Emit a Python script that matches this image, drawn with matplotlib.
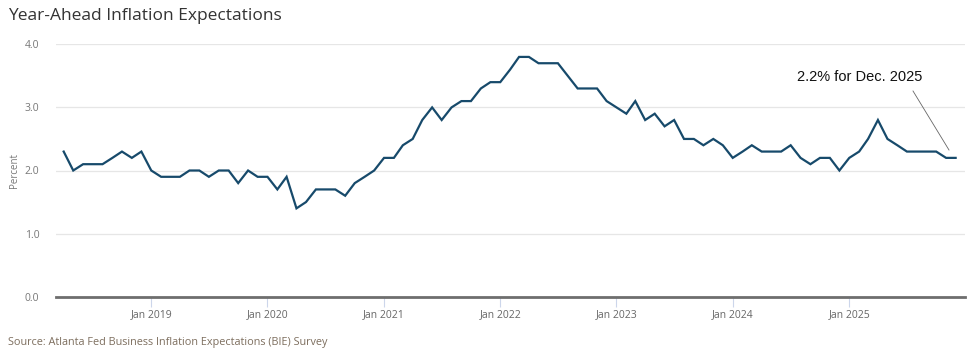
import matplotlib
matplotlib.use("Agg")
import matplotlib.pyplot as plt
import matplotlib.dates as mdates
import pandas as pd

# monthly year-ahead expectations, Apr 2018 .. Dec 2025
v2018 = [2.3, 2.0, 2.1, 2.1, 2.1, 2.2, 2.3, 2.2, 2.3]
v2019 = [2.0, 1.9, 1.9, 1.9, 2.0, 2.0, 1.9, 2.0, 2.0, 1.8, 2.0, 1.9]
v2020 = [1.9, 1.7, 1.9, 1.4, 1.5, 1.7, 1.7, 1.7, 1.6, 1.8, 1.9, 2.0]
v2021 = [2.2, 2.2, 2.4, 2.5, 2.8, 3.0, 2.8, 3.0, 3.1, 3.1, 3.3, 3.4]
v2022 = [3.4, 3.6, 3.8, 3.8, 3.7, 3.7, 3.7, 3.5, 3.3, 3.3, 3.3, 3.1]
v2023 = [3.0, 2.9, 3.1, 2.8, 2.9, 2.7, 2.8, 2.5, 2.5, 2.4, 2.5, 2.4]
v2024 = [2.2, 2.3, 2.4, 2.3, 2.3, 2.3, 2.4, 2.2, 2.1, 2.2, 2.2, 2.0]
v2025 = [2.2, 2.3, 2.5, 2.8, 2.5, 2.4, 2.3, 2.3, 2.3, 2.3, 2.2, 2.2]

values = v2018 + v2019 + v2020 + v2021 + v2022 + v2023 + v2024 + v2025
dates = pd.date_range("2018-04-01", periods=len(values), freq="MS")
yticks = [0.0, 1.0, 2.0, 3.0, 4.0]
xtick_years = list(range(2019, 2026))

plt.rcParams["font.family"] = ["Open Sans", "DejaVu Sans"]

fig = plt.figure(figsize=(9.7, 3.55), dpi=100)
ax = fig.add_axes([56 / 970, 1 - 296.7 / 355, (965 - 56) / 970, (296.7 - 44.3) / 355])

ax.plot(dates, values, color="#174a6b", lw=1.6, solid_joinstyle="miter", zorder=3)

# x range
x0 = mdates.date2num(pd.Timestamp("2019-01-01")) - 0.819 * 365.25
x1 = mdates.date2num(pd.Timestamp("2025-01-01")) + 0.995 * 365.25
ax.set_xlim(x0, x1)
ax.set_ylim(0, 4.0)

ax.set_yticks(yticks)
ax.set_yticklabels([f"{t:.1f}" for t in yticks])
ax.set_xticks([pd.Timestamp(f"{y}-01-01") for y in xtick_years])
ax.set_xticklabels([f"Jan {y}" for y in xtick_years])

ax.grid(axis="y", color="#e6e6e6", lw=0.9)
ax.set_axisbelow(True)
for s in ["top", "right", "left"]:
    ax.spines[s].set_visible(False)
ax.spines["bottom"].set_color("#6e6e6e")
ax.spines["bottom"].set_linewidth(2.0)
ax.spines["bottom"].set_zorder(4)

ax.tick_params(axis="y", length=0, pad=12, labelsize=7.5, labelcolor="#777777")
ax.tick_params(axis="x", length=7, width=0.8, color="#ccd6eb", pad=2,
               labelsize=7.5, labelcolor="#666666")

ax.set_ylabel("Percent", fontsize=7, color="#777777")
ax.yaxis.set_label_coords(-0.04, 0.5)

fig.text(8 / 970, 1 - 16 / 355, "Year-Ahead Inflation Expectations", fontsize=12.5,
         color="#333333", va="center", ha="left")
fig.text(8 / 970, 1 - 343 / 355,
         "Source: Atlanta Fed Business Inflation Expectations (BIE) Survey",
         fontsize=7.8, color="#7d6e5e", va="center", ha="left")

# annotation for the last point
fig.text(860 / 970, 1 - 77 / 355, "2.2% for Dec. 2025",
         fontsize=10.5, color="#111111", ha="center", va="center",
         family=["Liberation Sans", "DejaVu Sans"])
ln_x = [913 / 970, 949 / 970]
ln_y = [1 - 91 / 355, 1 - 150 / 355]
fig.add_artist(plt.Line2D(ln_x, ln_y, transform=fig.transFigure, color="#666666", lw=0.6))

fig.savefig("out.png", dpi=100, facecolor="white")
